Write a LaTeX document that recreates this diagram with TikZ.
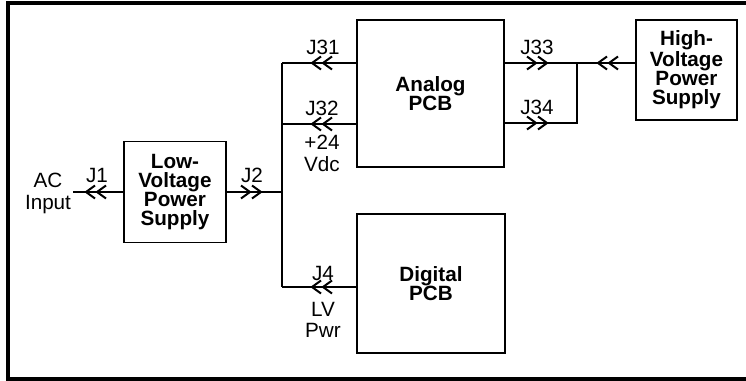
\documentclass[tikz,border=0pt]{standalone}
\usepackage{fontspec}
\setmainfont{Liberation Sans}
\begin{document}
\begin{tikzpicture}[x=0.75pt,y=-0.75pt,
  box/.style={draw, line width=1.4pt, inner sep=0pt, font=\bfseries\fontsize{15.5}{14.3}\selectfont, align=center},
  lbl/.style={inner sep=0pt, font=\fontsize{15.5}{16}\selectfont, align=center},
  wire/.style={line width=1.2pt},
  chev/.style={line width=1.5pt},
  frame/.style={line width=2.4pt},
  chevL/.pic={\draw[chev] (9,-6.5)--(0,0)--(9,6.5) (20,-6.5)--(11,0)--(20,6.5);},
  chevR/.pic={\draw[chev] (0,-6.5)--(9,0)--(0,6.5) (11,-6.5)--(20,0)--(11,6.5);}
]
\useasboundingbox (0,0) rectangle (746,381);
\draw[frame] (748,3) -- (8,3) -- (8,379) -- (748,379);

% boxes
\node[box, minimum width=76.5pt, minimum height=75.75pt] (lv) at (175,192) {Low-\\Voltage\\Power\\Supply};
\node[box, minimum width=110.25pt, minimum height=110.25pt] (an) at (430.5,93.5) {Analog\\PCB};
\node[box, minimum width=111pt, minimum height=104.25pt] (dg) at (431,283.5) {Digital\\PCB};
\node[box, minimum width=75.75pt, minimum height=75pt] (hv) at (686.5,70) {High-\\Voltage\\Power\\Supply};

% coordinates
\coordinate (acend) at (73,192);
\coordinate (b31) at (282,63);
\coordinate (b32) at (282,124);
\coordinate (b2) at (282,192);
\coordinate (b4) at (282,287);
\coordinate (m33) at (577,63);
\coordinate (m34) at (577,123);

% wires
\draw[wire] (acend) -- (lv.west);
\draw[wire] (lv.east) -- (b2);
\draw[wire] (b31) -- (b4);
\draw[wire] (b31) -- (an.west |- b31);
\draw[wire] (b32) -- (an.west |- b32);
\draw[wire] (b4) -- (dg.west |- b4);
\draw[wire] (an.east |- m33) -- (m33) -- (m34) -- (an.east |- m34);
\draw[wire] (m33) -- (hv.west |- m33);

% connectors
\pic at (86,192) {chevL};
\pic at (241,192) {chevR};
\pic at (312,63) {chevL};
\pic at (312,124) {chevL};
\pic at (312,287) {chevL};
\pic at (527,63) {chevR};
\pic at (527,123) {chevR};
\pic at (598,63) {chevL};

% labels
\node[lbl, anchor=north] (acin) at (48,173) {AC\\Input};
\node[lbl, anchor=base] (lj1) at (97,183) {J1};
\node[lbl, anchor=base] (lj2) at (252,183) {J2};
\node[lbl, anchor=base] (lj31) at (323,55) {J31};
\node[lbl, anchor=base] (lj32) at (322,116) {J32};
\node[lbl, anchor=north] (l24) at (322,135) {+24\\Vdc};
\node[lbl, anchor=base] (lj4) at (323,280) {J4};
\node[lbl, anchor=north] (llv) at (323,302) {LV\\Pwr};
\node[lbl, anchor=base] (lj33) at (537,55) {J33};
\node[lbl, anchor=base] (lj34) at (537,115) {J34};
\end{tikzpicture}
\end{document}
